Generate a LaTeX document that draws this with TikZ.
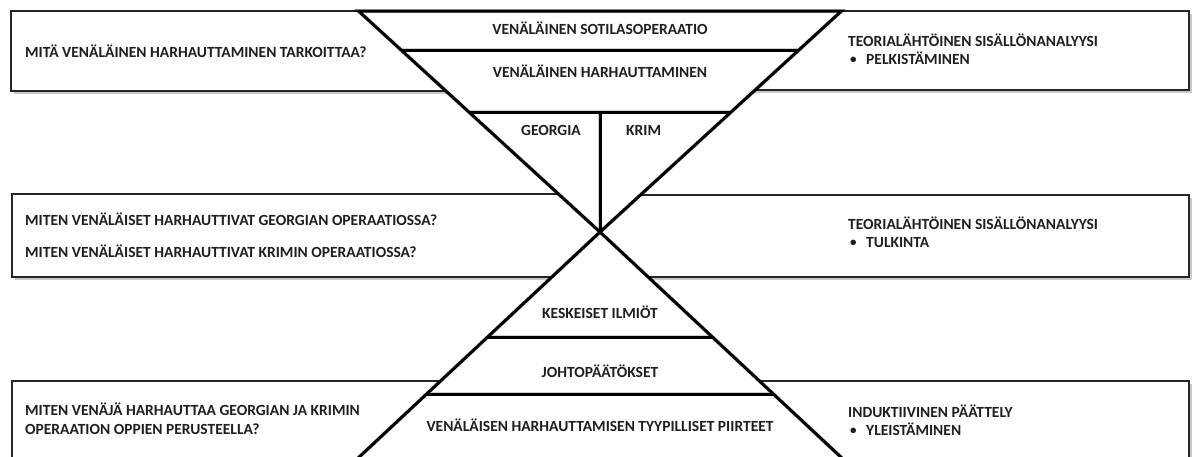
\documentclass[tikz,border=0pt]{standalone}
\usepackage{fontspec}
\setmainfont{Carlito}
\usetikzlibrary{shadows}
\begin{document}
\begin{tikzpicture}[x=1pt,y=-1pt,
  box/.style={draw=black!85, line width=2pt, fill=white,
    drop shadow={shadow xshift=2.5pt, shadow yshift=-3pt, opacity=0.3, fill=black!70}},
  triline/.style={line width=3pt, draw=black, line join=miter, line cap=butt},
  trishade/.style={line width=4pt, draw=black, opacity=0.18, line join=miter, xshift=1.5pt, yshift=-1.5pt},
  lbl/.style={inner sep=0pt, font=\fontsize{15.5}{18}\selectfont\bfseries, text=black!88, anchor=base west},
  clbl/.style={lbl, anchor=base},
  bul/.style={lbl, font=\fontsize{13}{16}\selectfont\bfseries},
]
\useasboundingbox (0,0) rectangle (1197,456);
\begin{scope}
\clip (0,0) rectangle (1197,456);
% named points
\coordinate (apex) at (600,232);
\coordinate (tl) at (358.5,11);
\coordinate (tr) at (841.5,11);
\coordinate (bl) at (345.3,470);
\coordinate (br) at (854.7,470);
% boxes
\path[box] (11,11) rectangle (600,91);
\path[box] (600,11) rectangle (1189,90);
\path[box] (12,194) rectangle (600,277);
\path[box] (600,195) rectangle (1189,277);
\path[box] (12,381) rectangle (600,480);
\path[box] (600,381) rectangle (1189,480);
% triangle fills
\fill[white] (tl) -- (apex) -- (tr) -- cycle;
\fill[white] (apex) -- (bl) -- (br) -- cycle;
% inner lines of the triangles: end points
\coordinate (a1) at (401.6,50);  \coordinate (a2) at (798.4,50);
\coordinate (g1) at (469.2,112); \coordinate (g2) at (730.8,112);
\coordinate (gm) at (600,112);
\coordinate (k1) at (487.6,337); \coordinate (k2) at (712.4,337);
\coordinate (j1) at (426.7,394); \coordinate (j2) at (773.3,394);
% shading of the lines
\draw[trishade] (tl) -- (apex) -- (tr) -- cycle;
\draw[trishade] (bl) -- (apex) -- (br);
\draw[trishade] (a1) -- (a2) (g1) -- (g2) (gm) -- (apex) (k1) -- (k2) (j1) -- (j2);
% lines
\draw[triline] (tl) -- (apex) -- (tr) -- cycle;
\draw[triline] (bl) -- (apex) -- (br);
\draw[triline] (a1) -- (a2);
\draw[triline] (g1) -- (g2);
\draw[triline] (gm) -- (apex);
\draw[triline] (k1) -- (k2);
\draw[triline] (j1) -- (j2);
\end{scope}
% texts in the triangles
\node[clbl] (t1) at (600,34) {VENÄLÄINEN SOTILASOPERAATIO};
\node[clbl] (t2) at (600,77) {VENÄLÄINEN HARHAUTTAMINEN};
\node[lbl] (geo) at (521,135) {GEORGIA};
\node[lbl] (krim) at (626,135) {KRIM};
\node[clbl] (kesk) at (600,318) {KESKEISET ILMIÖT};
\node[clbl] (joht) at (600,377) {JOHTOPÄÄTÖKSET};
\node[clbl] (piir) at (600,431) {VENÄLÄISEN HARHAUTTAMISEN TYYPILLISET PIIRTEET};
% texts in the boxes
\node[lbl] (q1) at (25,57) {MITÄ VENÄLÄINEN HARHAUTTAMINEN TARKOITTAA?};
\node[lbl] (m1) at (848,46) {TEORIALÄHTÖINEN SISÄLLÖNANALYYSI};
\node[bul] (b1) at (850,63) {•};
\node[lbl] (m1b) at (866,64) {PELKISTÄMINEN};
\node[lbl] (q2a) at (25,225) {MITEN VENÄLÄISET HARHAUTTIVAT GEORGIAN OPERAATIOSSA?};
\node[lbl] (q2b) at (25,257) {MITEN VENÄLÄISET HARHAUTTIVAT KRIMIN OPERAATIOSSA?};
\node[lbl] (m2) at (848,229) {TEORIALÄHTÖINEN SISÄLLÖNANALYYSI};
\node[bul] (b2) at (850,246) {•};
\node[lbl] (m2b) at (866,247) {TULKINTA};
\node[lbl] (q3a) at (25,415) {MITEN VENÄJÄ HARHAUTTAA GEORGIAN JA KRIMIN};
\node[lbl] (q3b) at (25,434) {OPERAATION OPPIEN PERUSTEELLA?};
\node[lbl] (m3) at (848,417) {INDUKTIIVINEN PÄÄTTELY};
\node[bul] (b3) at (850,434) {•};
\node[lbl] (m3b) at (866,435) {YLEISTÄMINEN};
\end{tikzpicture}
\end{document}
